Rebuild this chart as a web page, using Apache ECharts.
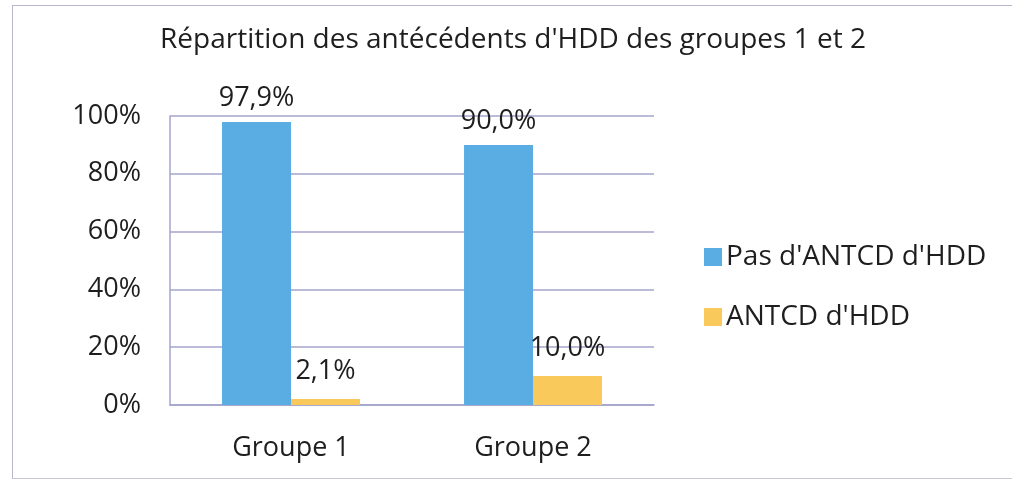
<!DOCTYPE html>
<html>
<head>
<meta charset="utf-8">
<script src="https://cdn.jsdelivr.net/npm/echarts@6/dist/echarts.min.js"></script>
<style>
html,body{margin:0;padding:0;background:#fff;}
#frame{position:absolute;left:12px;top:5px;width:1010px;height:472px;border-left:1px solid #b8b8cc;border-top:1px solid #b8b8cc;border-bottom:1px solid #c8c8d4;}
#chart{position:absolute;left:0;top:0;width:1012px;height:481px;}
</style>
</head>
<body>
<div id="frame"></div>
<div id="chart"></div>
<script>
const categories = ['Groupe 1', 'Groupe 2'];
const seriesNames = ["Pas d'ANTCD d'HDD", "ANTCD d'HDD"];
const noAntcd = [97.9, 90.0];
const antcd = [2.1, 10.0];
const yTicks = [0, 20, 40, 60, 80, 100];

const FONT = '"Open Sans", Lato, sans-serif';
const TXT = '#1e1e1e';
const GRID = '#a4a4cc';
const fmt = v => v.toFixed(1).replace('.', ',') + '%';

const chart = echarts.init(document.getElementById('chart'), null, {renderer: 'canvas'});
chart.setOption({
  backgroundColor: 'transparent',
  animation: false,
  title: {
    text: 'Répartition des antécédents d\'HDD des groupes 1 et 2',
    left: 508, top: 21, textAlign: 'center',
    textStyle: {fontFamily: FONT, fontSize: 28, fontWeight: 'normal', color: TXT}
  },
  legend: {
    orient: 'vertical', left: 699, top: 238,
    itemWidth: 18, itemHeight: 18, itemGap: 32,
    icon: 'rect',
    textStyle: {fontFamily: FONT, fontSize: 28, color: TXT, padding: [0, 0, 0, -1]},
    data: seriesNames
  },
  grid: {left: 170, right: 358, top: 116, bottom: 76, containLabel: false},
  xAxis: {
    type: 'category', data: categories,
    axisLine: {show: true, lineStyle: {color: GRID, width: 1.5}},
    axisTick: {show: false},
    axisLabel: {fontFamily: FONT, fontSize: 27, color: TXT, margin: 30}
  },
  yAxis: {
    type: 'value', min: 0, max: 100, interval: 20,
    axisLine: {show: true, lineStyle: {color: GRID, width: 1.5}},
    axisTick: {show: false},
    splitLine: {lineStyle: {color: GRID, width: 1.5}},
    axisLabel: {fontFamily: FONT, fontSize: 27, color: TXT, margin: 29,
      formatter: v => yTicks.includes(v) ? v + '%' : ''}
  },
  series: [
    {
      name: seriesNames[0], type: 'bar', data: noAntcd,
      barGap: '0%', barCategoryGap: '43%',
      itemStyle: {color: '#5aade2'},
      label: {show: true, position: 'top', distance: 10, formatter: p => fmt(p.value),
        fontFamily: FONT, fontSize: 27, color: TXT}
    },
    {
      name: seriesNames[1], type: 'bar', data: antcd,
      barGap: '0%', barCategoryGap: '43%',
      itemStyle: {color: '#f9c95c'},
      label: {show: true, position: 'top', distance: 14, formatter: p => fmt(p.value),
        fontFamily: FONT, fontSize: 27, color: TXT}
    }
  ]
});
</script>
</body>
</html>
